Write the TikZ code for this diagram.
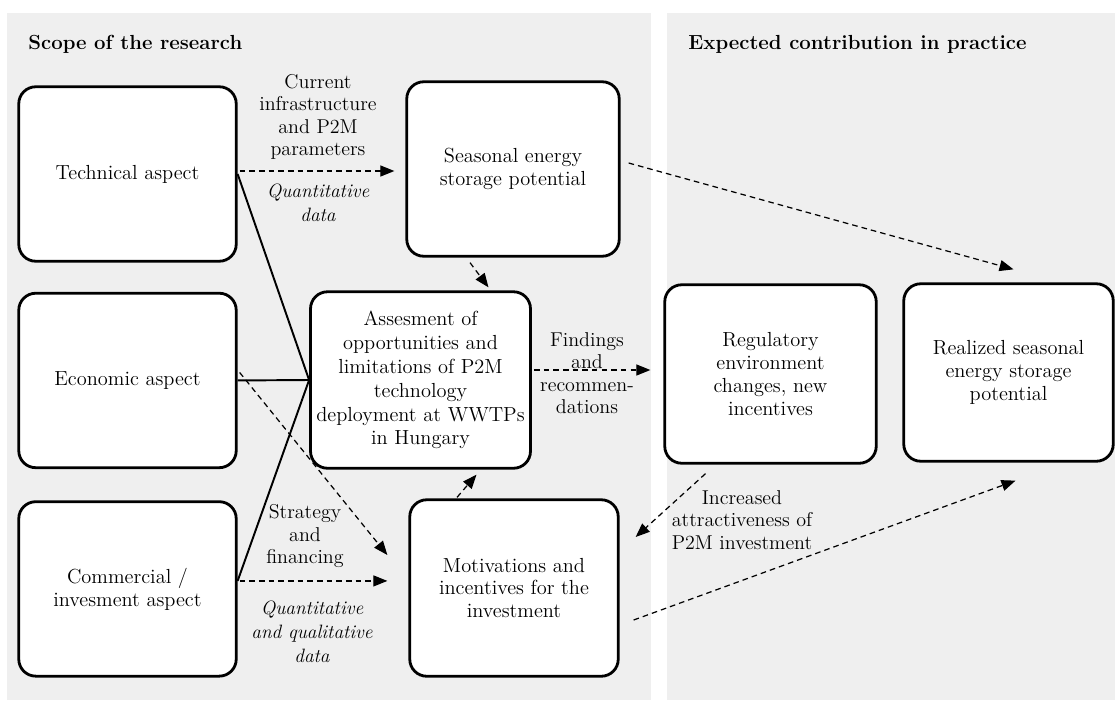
\documentclass[tikz,border=0pt]{standalone}
\usepackage{tikz}
\usetikzlibrary{shapes.geometric, arrows.meta, positioning, calc}
\definecolor{panelgray}{RGB}{239,239,239}
\tikzstyle{aspect} = [rectangle, rounded corners=0.34cm, minimum width=4.35cm, minimum height=3.49cm, text centered, align=center, draw=black, line width=1.6pt, fill=white, font=\fontsize{11.6}{13}\selectfont]
\tikzstyle{panel} = [fill=panelgray, draw=none]
\tikzstyle{heading} = [anchor=west, inner sep=0pt, font=\bfseries\fontsize{11.6}{13}\selectfont]
\tikzstyle{flowtext} = [align=center, font=\fontsize{11.4}{12.8}\selectfont]
\tikzstyle{note} = [align=center, font=\itshape\fontsize{11}{13.5}\selectfont]
\tikzstyle{link} = [line width=1.1pt]
\tikzstyle{arrow} = [line width=0.7pt, dash pattern=on 3.2pt off 2.3pt, -{Triangle[length=0.28cm,width=0.22cm]}]

\begin{document}
\begin{tikzpicture}[x=0.02cm, y=-0.02cm, node distance=4.13cm]
    % two panels
    \useasboundingbox (0,0) rectangle (1115,700);
    \fill[panel] (7,13) rectangle (651,700);
    \fill[panel] (667,13) rectangle (1115,700);
    \node (scope) [heading] at (28,44) {Scope of the research};
    \node (expect) [heading] at (688,44) {Expected contribution in practice};

    % aspects of the research
    \node (tech) [aspect] at (127.5,174) {Technical aspect};
    \node (econ) [aspect, below of=tech] {Economic aspect};
    \node (comm) [aspect, below of=econ, yshift=-0.04cm] {Commercial /\\invesment aspect};

    \node (season) [aspect, minimum width=4.25cm] at (513,169) {Seasonal energy\\storage potential};
    \node (assess) [aspect, minimum width=4.35cm, minimum height=3.53cm, font=\fontsize{11.6}{13.6}\selectfont] at (420.5,380) {Assesment of\\opportunities and\\limitations of P2M\\technology\\deployment at WWTPs\\in Hungary};
    \node (motiv) [aspect, minimum width=4.17cm, minimum height=3.53cm] at (514,588) {Motivations and\\incentives for the\\investment};

    % contribution in practice
    \node (reg) [aspect, minimum width=4.23cm, minimum height=3.57cm] at (770.5,374) {Regulatory\\environment\\changes, new\\incentives};
    \node (realized) [aspect, minimum width=4.19cm, minimum height=3.55cm] at (1008.5,372.5) {Realized seasonal\\energy storage\\potential};

    % connector texts
    \node (infra) [flowtext] at (318,117) {Current\\infrastructure\\and P2M\\parameters};
    \node (quant) [note] at (318,203) {Quantitative\\data};
    \node (find) [flowtext] at (587,373) {Findings\\and\\recommen-\\dations};
    \node (strat) [flowtext] at (305,536) {Strategy\\and\\financing};
    \node (qual) [note] at (312,632) {Quantitative\\and qualitative\\data};
    \node (attract) [flowtext] at (742,520) {Increased\\attractiveness of\\P2M investment};

    \draw [link] (tech.east) -- (assess.west);
    \draw [link] (econ.east) -- (assess.west);
    \draw [link] ($(comm.east)+(0,-8)$) -- (assess.west);

    \draw [arrow] ($(tech.east)+(2,-3)$) -- ($(tech.east -| season.west)+(-11,-3)$);
    \draw [arrow] ($(comm.east)+(2,-8)$) -- ($(comm.east -| motiv.west)+(-21,-8)$);
    \draw [arrow] ($(econ.east)+(2,-8)$) -- ($(motiv.west)+(-21,-33)$);
    \draw [arrow] ($(season.south)+(-43,5)$) -- ($(assess.north)+(68,-3)$);
    \draw [arrow] ($(motiv.north)+(-57,-1)$) -- ($(assess.south)+(56,5)$);
    \draw [arrow] ($(assess.east)+(2,-10)$) -- ($(assess.east -| reg.west)+(-13,-10)$);
    \draw [arrow] ($(season.east)+(8,-6)$) -- ($(realized.north)+(5,-13)$);
    \draw [arrow] ($(reg.south)+(-65,9)$) -- ($(motiv.east)+(16,-51)$);
    \draw [arrow] ($(motiv.east)+(14,32)$) -- ($(realized.south)+(7,18)$);
\end{tikzpicture}
\end{document}
